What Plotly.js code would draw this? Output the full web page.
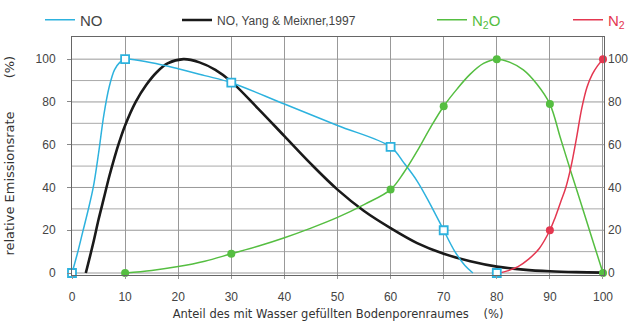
<!DOCTYPE html>
<html><head><meta charset="utf-8">
<script src="https://cdn.plot.ly/plotly-3.0.1.min.js"></script>
<style>html,body{margin:0;padding:0;background:#fff}#c{width:640px;height:326px}</style>
</head><body><div id="c"></div>
<script>
// NO (measured) - curve and marker points
const noLineX = [0,1,2,3,4,5,6,7,8,9,10,15,20,25,30,40,50,60,62.5,65,67.5,70,72,74,75.5];
const noLineY = [0,9,19,29,40,56,74,87,95,98.5,100,98.3,95.5,92.3,89,79,69,59,51.5,43,32,20,10.5,3.5,0];
const noPtsX = [0,10,30,60,70,80];
const noPtsY = [0,100,89,59,20,0];
// NO, Yang & Meixner 1997
const ymX = [2.6,4,5,6,7,8,9,10,12,14,16,18,21,24,27,30,35,40,45,50,55,60,65,70,75,80,85,90,95,100];
const ymY = [0,14,25,35,45,54,62,69,80,88,94,98,100,98.5,95,89.5,77,64,51,39,29,21,14,9,5.5,3,1.6,0.8,0.4,0.2];
// N2O
const n2oLineX = [10,15,20,25,30,35,40,45,50,55,60,62.5,65,67.5,70,72.5,75,77.5,80,82.5,85,87.5,90,92,94,96,98,100];
const n2oLineY = [0,1.2,3,5.5,9,12.5,16.5,21,26,32,39,47,57,68,78,86,93,98,100,98.5,95,88.5,79,63,47,31.5,15.7,0];
const n2oPtsX = [10,30,60,70,80,90,100];
const n2oPtsY = [0,9,39,78,100,79,0];
// N2
const n2LineX = [80.5,82,84,86,88,90,91,92,93,94,95,96,97,98,99,100];
const n2LineY = [0,1,3,6.5,11.5,20,26,33,40,50,63,77,87,93,97,100];
const n2PtsX = [80,90,100];
const n2PtsY = [0,20,100];
const xTicks = [0,10,20,30,40,50,60,70,80,90,100];
const yTicks = [0,20,40,60,80,100];
const gridY = [0,10,20,30,40,50,60,70,80,90,100];

const cBlue = 'rgb(45,178,222)', cBlack = '#1a1a1a', cGreen = 'rgb(85,190,65)', cRed = 'rgb(228,55,80)';
const sp = {shape:'spline', smoothing:1};

const traces = [
  {x: n2PtsX, y: n2PtsY, mode:'markers', marker:{symbol:'circle',size:8,color:cRed}, showlegend:false, cliponaxis:false},
  {x: ymX, y: ymY, mode:'lines', line:Object.assign({color:cBlack,width:2.6},sp), name:'NO, Yang &amp; Meixner,1997', legend:'legend2'},
  {x: noLineX, y: noLineY, mode:'lines', line:Object.assign({color:cBlue,width:1.5},sp), name:'NO', legend:'legend'},
  {x: n2oLineX, y: n2oLineY, mode:'lines', line:Object.assign({color:cGreen,width:1.5},sp), name:'N<sub>2</sub>O', legend:'legend3'},
  {x: n2LineX, y: n2LineY, mode:'lines', line:Object.assign({color:cRed,width:1.5},sp), name:'N<sub>2</sub>', legend:'legend4'},
  {x: noPtsX, y: noPtsY, mode:'markers', marker:{symbol:'square',size:8,color:'#fff',line:{color:cBlue,width:1.8}}, showlegend:false, cliponaxis:false},
  {x: n2oPtsX, y: n2oPtsY, mode:'markers', marker:{symbol:'circle',size:8,color:cGreen}, showlegend:false, cliponaxis:false},
  {x: [0,100], y:[0,100], yaxis:'y2', mode:'markers', marker:{opacity:0}, showlegend:false, hoverinfo:'skip'}
];

const W = 532, L = 72;
const px = p => (p - L) / W;
function leg(xpx, size, color, fam){
  return {orientation:'h', x:px(xpx), xanchor:'left', yref:'container', y:1-20/326, yanchor:'middle',
          bgcolor:'rgba(0,0,0,0)', borderwidth:0, font:{family:fam||'Liberation Sans, Arial, sans-serif', size:size, color:color}};
}
const tickFont = {family:'Liberation Sans, Arial, sans-serif', size:12, color:'#444'};
const layout = {
  width:640, height:326,
  margin:{l:72, r:36, t:34, b:51},
  paper_bgcolor:'#fff', plot_bgcolor:'#fff',
  font: tickFont,
  showlegend:true,
  legend: leg(40, 15, '#444'),
  legend2: leg(177, 12, '#444'),
  legend3: leg(432, 15, cGreen),
  legend4: leg(568, 15, cRed),
  xaxis:{range:[0,100.19], tickvals:xTicks, ticktext:xTicks.map(String), showgrid:true, gridcolor:'#999', gridwidth:1,
         zeroline:false, showline:true, linecolor:'#666', mirror:true, ticks:'outside', ticklen:3, tickcolor:'#999',
         ticklabelstandoff:8, tickfont:tickFont,
         title:{text:'Anteil des mit Wasser gefüllten Bodenporenraumes    (%)', font:{family:'DejaVu Sans, sans-serif', size:11.5, color:'#333'}, standoff:6}},
  yaxis:{range:[-0.93,110.6], tickvals:yTicks, showgrid:false, zeroline:false, showline:true, linecolor:'#666', mirror:true,
         ticks:'outside', ticklen:4, tickcolor:'#888', ticklabelstandoff:9, tickfont:tickFont,
         title:{text:'relative Emissionsrate        (%)    ', font:{family:'DejaVu Sans, sans-serif', size:13, color:'#333'}, standoff:18}},
  yaxis2:{range:[-0.93,110.6], tickvals:yTicks, overlaying:'y', side:'right', showgrid:false, zeroline:false, ticks:'', ticklabelstandoff:3, tickfont:tickFont},
  shapes: gridY.map(v=>({type:'line', xref:'paper', x0:0, x1:1, yref:'y', y0:v, y1:v,
          line:{color: v%20===0 ? '#999' : '#aaa', width:1}, layer:'below'}))
};
Plotly.newPlot('c', traces, layout, {staticPlot:true});
</script></body></html>
